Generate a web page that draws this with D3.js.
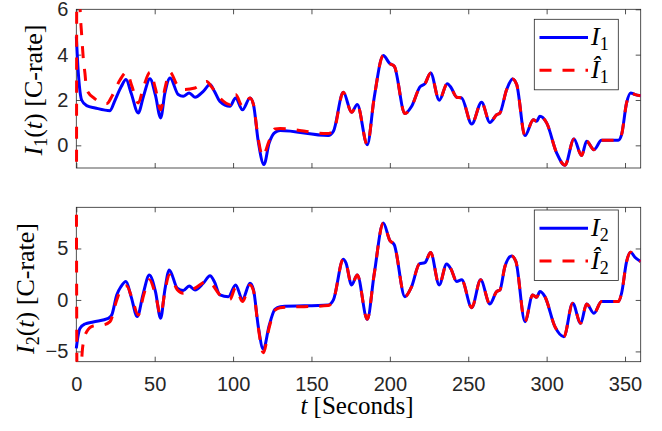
<!DOCTYPE html>
<html lang="en">
<head>
<meta charset="UTF-8">
<title>Current estimation</title>
<script src="https://d3js.org/d3.v7.min.js"></script>
<style>
    body { margin: 0; background: #fff; }
    svg { display: block; }
    .tick text { font-family: "Liberation Sans", Arial, sans-serif; font-size: 20px; fill: #262626; }
    .tick line { stroke: #262626; stroke-width: 0.8; }
    .lbl { font-family: "Liberation Serif", "Times New Roman", serif; font-size: 25px; fill: #000; }
</style>
</head>
<body>
<div id="chart"></div>
<script>
// time axis
const xTicks = [0, 50, 100, 150, 200, 250, 300, 350];

// top panel: I1 measured and estimated [t, C-rate]
const i1 = [[0,4.8],[1,3.5],[2,2.6],[3.4,2.0],[6.6,1.75],[12,1.65],[21.5,1.53],[24.4,1.94],[28.6,2.58],[31.7,2.9],
    [35,2.3],[39.5,1.43],[43,2.2],[47,2.94],[50.5,2.2],[53.8,1.21],[56.5,2.3],[59.8,2.97],[65,2.24],[68.2,2.16],
    [72,2.31],[75.7,2.12],[81,2.38],[85.3,2.68],[88,2.4],[91.6,1.94],[98,1.72],[101.6,2.09],[106,1.57],[110.8,2.09],
    [113,1.8],[116,0.2],[119.7,-0.85],[123,0.1],[126.7,0.57],[130,0.65],[160.7,0.43],[164,0.62],[170.3,2.34],
    [175.6,1.46],[179.2,1.8],[185.6,0.03],[190,2.1],[195.8,3.96],[200,3.6],[202.8,3.49],[209.6,1.4],[213.9,1.72],
    [219.2,2.58],[222.4,2.72],[226,3.19],[231.5,1.99],[236.6,2.72],[239,2.55],[242.6,2.12],[245.8,2.09],[252.2,0.94],
    [258.5,1.9],[263.8,1.01],[268.1,1.35],[270.2,1.43],[274.5,2.46],[278.3,2.93],[280.9,2.68],[286.2,0.43],[291.5,1.13],
    [293.6,1.06],[295.7,1.28],[300,0.99],[306.4,-0.34],[311.7,-0.88],[317.4,0.28],[322.3,-0.45],[325.5,0.18],
    [330.2,-0.19],[335,0.22],[345.7,0.22],[347.8,0.47],[351,1.87],[353.6,2.31],[356,2.25],[360,2.19]];
const i1Hat = [[0,-20],[0.4,14],[1.2,10],[2.4,6.1],[3.4,4.9],[4.5,3.8],[5.5,3.19],[6.6,2.46],[11.9,2.05],[19.4,1.84],[23,2.2],
    [28,2.9],[32.1,3.22],[35.5,2.6],[39.5,1.87],[43,2.6],[47,3.22],[50.5,2.5],[53.8,1.57],[56.5,2.5],[59.8,3.22],
    [64,2.7],[68.2,2.46],[75.7,2.53],[83.2,2.82],[86,2.6],[91.6,2.09],[98,1.8],[101.6,2.24],[106,1.72],[110.8,2.09],
    [113,1.8],[116,0.3],[118.9,-0.48],[123,0.2],[126.7,0.72],[130,0.74],[160,0.52],[164,0.62],[170.3,2.34],
    [175.6,1.46],[179.2,1.8],[185.6,0.03],[190,2.1],[195.8,3.96],[200,3.6],[202.8,3.49],[209.6,1.4],[213.9,1.72],
    [219.2,2.58],[222.4,2.72],[226,3.19],[231.5,1.99],[236.6,2.72],[239,2.55],[242.6,2.12],[245.8,2.09],[252.2,0.94],
    [258.5,1.9],[263.8,1.01],[268.1,1.35],[270.2,1.43],[274.5,2.46],[278.3,2.93],[280.9,2.68],[286.2,0.43],[291.5,1.13],
    [293.6,1.06],[295.7,1.28],[300,0.99],[306.4,-0.34],[311.7,-0.88],[317.4,0.28],[322.3,-0.45],[325.5,0.18],
    [330.2,-0.19],[335,0.22],[345.7,0.22],[347.8,0.47],[351,1.87],[353.6,2.31],[356,2.25],[360,2.19]];
const yTicks1 = [0, 2, 4, 6];

// bottom panel: I2 measured and estimated
const i2 = [[0,-4.7],[1,-3.6],[2.4,-2.76],[5.5,-2.34],[10.8,-2.14],[20.4,-1.79],[22.6,-1.46],[25.8,0.49],[28.5,1.3],
    [31.7,1.79],[35,0.3],[38.9,-1.62],[42.5,0.5],[46.6,2.43],[50.5,0.8],[53.8,-1.79],[56.5,1.0],[59.3,2.92],[64.4,1.14],
    [68.2,0.91],[72,1.36],[75.7,0.97],[81,1.62],[85.3,2.34],[88,1.8],[91.6,0.49],[97,0.32],[101.6,1.46],[106,0.06],
    [110.8,1.62],[113,1.0],[116,-2.5],[119.3,-4.8],[123,-2.5],[126.7,-0.91],[130,-0.65],[160.7,-0.49],[164,0],
    [170.3,3.96],[172,3.6],[175.6,1.46],[179.2,2.43],[185.6,-1.88],[190,2.5],[195.8,7.47],[200,5.78],[202.8,5.36],
    [209.6,0.32],[213.9,1.3],[218.8,3.5],[222.4,3.63],[226,4.6],[231.5,1.46],[236.2,3.5],[239,3.0],[242.6,1.79],
    [245.8,1.95],[252.2,-0.75],[257.9,1.95],[263.8,-0.39],[268.1,0.81],[270.2,0.97],[273.4,3.25],[277.7,4.28],
    [280.4,3.73],[286.2,-2.11],[291.1,0.49],[293.6,0.26],[295.7,0.81],[298.9,0.32],[305.3,-2.6],[311,-3.57],
    [316.6,-0.32],[321.7,-2.27],[325.5,-0.39],[330.2,-1.3],[335,-0.16],[345.7,-0.16],[347.8,0.65],[351,3.73],
    [353.6,4.64],[356.3,4.15],[360,3.73]];
const i2Hat = [[0,15],[0.6,-12],[3,-7],[3.8,-5],[5,-3.8],[6.6,-3.08],[10.8,-2.53],[17.2,-2.43],[21.5,-2.11],[25.8,0],
    [28.5,1.0],[32.1,1.36],[35.5,0.2],[39.5,-1.46],[43,0.5],[46.6,1.95],[50.5,0.5],[53.8,-1.46],[56.5,0.8],[59.3,2.43],
    [64.4,1.0],[68.2,0.65],[75.7,1.14],[83.2,1.79],[86,1.6],[91.6,0.49],[98,0.06],[101.6,1.2],[106,-0.16],[110.8,1.46],
    [113,0.9],[116,-2.6],[119.3,-5.13],[123,-2.7],[126.7,-1.0],[130,-0.75],[160.7,-0.55],[164,0],
    [170.3,3.96],[172,3.6],[175.6,1.46],[179.2,2.43],[185.6,-1.88],[190,2.5],[195.8,7.47],[200,5.78],[202.8,5.36],
    [209.6,0.32],[213.9,1.3],[218.8,3.5],[222.4,3.63],[226,4.6],[231.5,1.46],[236.2,3.5],[239,3.0],[242.6,1.79],
    [245.8,1.95],[252.2,-0.75],[257.9,1.95],[263.8,-0.39],[268.1,0.81],[270.2,0.97],[273.4,3.25],[277.7,4.28],
    [280.4,3.73],[286.2,-2.11],[291.1,0.49],[293.6,0.26],[295.7,0.81],[298.9,0.32],[305.3,-2.6],[311,-3.57],
    [316.6,-0.32],[321.7,-2.27],[325.5,-0.39],[330.2,-1.3],[335,-0.16],[345.7,-0.16],[347.8,0.65],[351,3.73],
    [353.6,4.64],[356.3,4.15],[360,3.73]];
const yTicks2 = [-5, 0, 5];

const W = 662, H = 431;
const left = 76.3, right = 640.7;
const svg = d3.select("#chart").append("svg").attr("width", W).attr("height", H);

const x = d3.scaleLinear().domain([0, 360]).range([left, right]);

function panel(id, top, bottom, yDomain, yTicks, meas, est, showX, sub, legTop) {
    const y = d3.scaleLinear().domain(yDomain).range([bottom, top]);
    const g = svg.append("g");

    g.append("clipPath").attr("id", "clip" + id)
        .append("rect").attr("x", left - 2).attr("y", top)
        .attr("width", right - left + 2).attr("height", bottom - top);

    g.append("rect").attr("x", left).attr("y", top)
        .attr("width", right - left).attr("height", bottom - top)
        .attr("fill", "none").attr("stroke", "#262626").attr("stroke-width", 0.8);

    // ticks on all four sides, pointing inward
    g.append("g").attr("transform", `translate(0,${bottom})`)
        .call(d3.axisBottom(x).tickValues(xTicks).tickSizeInner(-5).tickSizeOuter(0).tickPadding(15)
            .tickFormat(showX ? d3.format("d") : ""))
        .select(".domain").remove();
    g.append("g").attr("transform", `translate(0,${top})`)
        .call(d3.axisTop(x).tickValues(xTicks).tickSizeInner(-5).tickSizeOuter(0).tickFormat(""))
        .select(".domain").remove();
    g.append("g").attr("transform", `translate(${left},0)`)
        .call(d3.axisLeft(y).tickValues(yTicks).tickSizeInner(-5).tickSizeOuter(0).tickPadding(8)
            .tickFormat(d3.format("d")))
        .select(".domain").remove();
    g.append("g").attr("transform", `translate(${right},0)`)
        .call(d3.axisRight(y).tickValues(yTicks).tickSizeInner(-5).tickSizeOuter(0).tickFormat(""))
        .select(".domain").remove();

    const line = d3.line().x(d => x(d[0])).y(d => y(d[1])).curve(d3.curveMonotoneX);
    const lines = g.append("g").attr("clip-path", `url(#clip${id})`);
    lines.append("path").datum(meas).attr("d", line)
        .attr("fill", "none").attr("stroke", "#0000ff").attr("stroke-width", 3);
    lines.append("path").datum(est).attr("d", line)
        .attr("fill", "none").attr("stroke", "#ff0000").attr("stroke-width", 3)
        .attr("stroke-dasharray", "12,11");

    // legend
    const lg = g.append("g");
    lg.append("rect").attr("x", 534.3).attr("y", legTop).attr("width", 84).attr("height", 70.5)
        .attr("fill", "#fff").attr("stroke", "#262626").attr("stroke-width", 0.8);
    lg.append("line").attr("x1", 539.5).attr("x2", 588).attr("y1", legTop + 18.3).attr("y2", legTop + 18.3)
        .attr("stroke", "#0000ff").attr("stroke-width", 3);
    lg.append("line").attr("x1", 539.5).attr("x2", 588).attr("y1", legTop + 51).attr("y2", legTop + 51)
        .attr("stroke", "#ff0000").attr("stroke-width", 3).attr("stroke-dasharray", "12,11");
    const t1 = lg.append("text").attr("class", "lbl").attr("x", 591).attr("y", legTop + 26).style("font-size", "26px");
    t1.append("tspan").style("font-style", "italic").text("I");
    t1.append("tspan").attr("dy", 5).style("font-size", "18px").text(sub);
    const t2 = lg.append("text").attr("class", "lbl").attr("x", 591).attr("y", legTop + 59).style("font-size", "26px");
    t2.append("tspan").style("font-style", "italic").text("Î");
    t2.append("tspan").attr("dy", 5).style("font-size", "18px").text(sub);

    return y;
}

panel(1, 9.3, 168, [-1, 6], yTicks1, i1, i1Hat, false, "1", 19.3);
panel(2, 207.3, 361.7, [-6, 9], yTicks2, i2, i2Hat, true, "2", 210);

// axis labels
function yLabel(cx, cy, sub) {
    const t = svg.append("text").attr("class", "lbl")
        .attr("transform", `translate(${cx},${cy}) rotate(-90)`)
        .attr("text-anchor", "middle").style("font-size", "26px");
    t.append("tspan").style("font-style", "italic").text("I");
    t.append("tspan").attr("dy", 5).style("font-size", "18px").text(sub);
    t.append("tspan").attr("dy", -5).text("(");
    t.append("tspan").style("font-style", "italic").text("t");
    t.append("tspan").text(") [C-rate]");
}
yLabel(42, 90, "1");
yLabel(34, 288.5, "2");

const xl = svg.append("text").attr("class", "lbl").attr("x", 357).attr("y", 414).attr("text-anchor", "middle");
xl.append("tspan").style("font-style", "italic").text("t");
xl.append("tspan").text(" [Seconds]");
</script>
</body>
</html>
